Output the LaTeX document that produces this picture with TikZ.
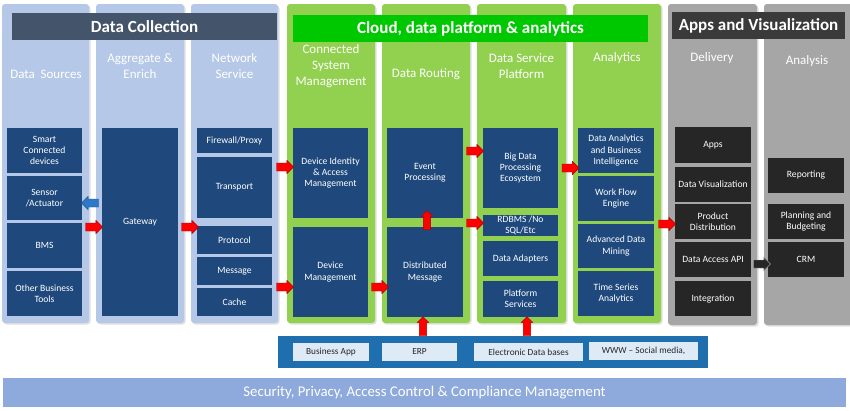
\documentclass[tikz,border=0pt]{standalone}
\usepackage{fontspec}
\setmainfont{Carlito}
\usetikzlibrary{shapes.arrows,shadows}
\definecolor{colB}{HTML}{B6C8E8}
\definecolor{colG}{HTML}{92D050}
\definecolor{colK}{HTML}{A6A6A6}
\definecolor{navyC}{HTML}{1F497D}
\definecolor{darkC}{HTML}{262626}
\definecolor{hdrB}{HTML}{44546A}
\definecolor{hdrG}{HTML}{00C800}
\definecolor{hdrK}{HTML}{3A3A3A}
\definecolor{bandC}{HTML}{1F6EAE}
\definecolor{lightC}{HTML}{DEEBF7}
\definecolor{secC}{HTML}{8EA9DB}
\definecolor{arrB}{HTML}{2E78C8}
\tikzset{
  colbox/.style={inner sep=0, rounded corners=3pt, drop shadow={shadow xshift=1.5pt, shadow yshift=-1.5pt, opacity=0.25}},
  coltitle/.style={text=white, align=center, font=\fontsize{13}{16}\selectfont, inner sep=0},
  hdr/.style={inner sep=0, text=white, font=\bfseries\fontsize{17}{18}\selectfont},
  navy/.style={fill=navyC, text=white, align=center, inner sep=0, font=\fontsize{9.6}{11.2}\selectfont},
  blk/.style={fill=darkC, text=white, align=center, inner sep=0, font=\fontsize{9.6}{11.2}\selectfont},
  srcbox/.style={fill=lightC, text=black!85, align=center, inner sep=0, font=\fontsize{9.3}{11}\selectfont},
  blockarr/.style={single arrow, minimum height=17pt, text height=0pt, text depth=0pt, text width=0pt, inner xsep=0pt, inner ysep=3.8pt, single arrow head extend=2.6pt, line width=0.4pt},
  redarr/.style={blockarr, fill=red, draw=red!65!black},
  bluearr/.style={blockarr, fill=arrB, draw=arrB!70!black, rotate=180},
  blackarr/.style={blockarr, fill=darkC, draw=white!60!black},
  uparr/.style={redarr, rotate=90, minimum height=19pt, inner ysep=3.4pt, single arrow head extend=2.2pt},
}
% \bx{style}{name}{x1}{y1}{x2}{y2}{text}
\newcommand\bx[7]{\node[#1, minimum width={#5-#3}, minimum height={#6-#4}] (#2) at ({(#3+#5)/2},{(#4+#6)/2}) {#7};}
\begin{document}
\begin{tikzpicture}[x=1pt,y=-1pt]
\useasboundingbox[fill=white] (0,0) rectangle (850,410);
% columns
\bx{colbox, fill=colB}{c1}{2}{4}{89}{323}{}
\bx{colbox, fill=colB}{c2}{96}{4}{184}{323}{}
\bx{colbox, fill=colB}{c3}{191}{4}{278}{323}{}
\bx{colbox, fill=colG}{c4}{287}{4}{375}{323}{}
\bx{colbox, fill=colG}{c5}{382}{4}{470}{323}{}
\bx{colbox, fill=colG}{c6}{477}{4}{566}{323}{}
\bx{colbox, fill=colG}{c7}{573}{4}{661}{323}{}
\bx{colbox, fill=colK}{c8}{668}{4}{757}{325}{}
\bx{colbox, fill=colK}{c9}{764}{4}{854}{325}{}
% headers
\bx{hdr, fill=hdrB}{h1}{12}{13}{277}{40}{Data Collection}
\bx{hdr, fill=hdrG}{h2}{293}{15}{648}{42}{Cloud, data platform \& analytics}
\bx{hdr, fill=hdrK}{h3}{672}{12}{845}{39}{Apps and Visualization}
% column titles
\node[coltitle] (t1) at (46,74) {Data\ \ Sources};
\node[coltitle] (t2) at (140,66) {Aggregate \&\\Enrich};
\node[coltitle] (t3) at (234.5,66) {Network\\Service};
\node[coltitle] (t4) at (331,66) {Connected\\System\\Management};
\node[coltitle] (t5) at (426,74) {Data Routing};
\node[coltitle] (t6) at (521.5,66) {Data Service\\Platform};
\node[coltitle] (t7) at (617,58) {Analytics};
\node[coltitle] (t8) at (712,58) {Delivery};
\node[coltitle] (t9) at (807,61) {Analysis};
% data sources
\bx{navy}{sd}{7}{128}{82}{173}{Smart\\Connected\\devices}
\bx{navy}{sa}{7}{176}{82}{220}{Sensor\\/Actuator}
\bx{navy}{bms}{7}{223}{82}{268}{BMS}
\bx{navy}{obt}{7}{271}{82}{316}{Other Business\\Tools}
% gateway
\bx{navy}{gw}{102}{128}{178}{316}{Gateway}
% network service
\bx{navy}{fw}{197}{128}{272}{153}{Firewall/Proxy}
\bx{navy}{tr}{197}{157}{272}{218}{Transport}
\bx{navy}{pr}{197}{226}{272}{254}{Protocol}
\bx{navy}{msg}{197}{257}{272}{285}{Message}
\bx{navy}{ca}{197}{288}{272}{316}{Cache}
% connected system management
\bx{navy}{dia}{293}{128}{368}{218}{Device Identity\\\& Access\\Management}
\bx{navy}{dm}{293}{227}{368}{317}{Device\\Management}
% data routing
\bx{navy}{ep}{387}{128}{463}{218}{Event\\Processing}
\bx{navy}{dmsg}{387}{227}{463}{317}{Distributed\\Message}
% data service platform
\bx{navy}{bd}{483}{128}{558}{208}{Big Data\\Processing\\Ecosystem}
\bx{navy}{rd}{483}{215}{558}{236}{RDBMS /No\\SQL/Etc}
\bx{navy}{da}{483}{241}{558}{276}{Data Adapters}
\bx{navy}{ps}{483}{281}{558}{317}{Platform\\Services}
% analytics
\bx{navy}{dabi}{578}{128}{654}{173}{Data Analytics\\and Business\\Intelligence}
\bx{navy}{wf}{578}{176}{654}{221}{Work Flow\\Engine}
\bx{navy}{adm}{578}{224}{654}{268}{Advanced Data\\Mining}
\bx{navy}{tsa}{578}{271}{654}{316}{Time Series\\Analytics}
% delivery
\bx{blk}{apps}{675}{127}{751}{163}{Apps}
\bx{blk}{dv}{675}{167}{751}{202}{Data Visualization}
\bx{blk}{pd}{675}{204}{751}{239}{Product\\Distribution}
\bx{blk}{dapi}{675}{242}{751}{277}{Data Access API}
\bx{blk}{intg}{675}{281}{751}{316}{Integration}
% analysis
\bx{blk}{rep}{768}{158}{844}{193}{Reporting}
\bx{blk}{pb}{768}{204}{844}{239}{Planning and\\Budgeting}
\bx{blk}{crm}{768}{242}{844}{277}{CRM}
% source band
\bx{inner sep=0, fill=bandC}{band}{278}{336}{708}{368}{}
\bx{srcbox}{bapp}{293}{343}{369}{361}{Business App}
\bx{srcbox}{erp}{382}{343}{457}{361}{ERP}
\bx{srcbox}{edb}{474}{343}{583}{361}{Electronic Data bases}
\bx{srcbox}{www}{589}{342}{698}{360}{WWW -- Social media,}
% security bar
\bx{inner sep=0, fill=secC, text=white, font=\fontsize{14.8}{16}\selectfont}{sec}{3}{378}{846}{407}{Security, Privacy, Access Control \& Compliance Management}
% arrows
\node[bluearr] (a1) at (92,203) {};
\node[redarr] (a2) at (92,227) {};
\node[redarr] (a3) at (188,227) {};
\node[redarr] (a4) at (283,167) {};
\node[redarr] (a5) at (283,287) {};
\node[redarr] (a6) at (378,287) {};
\node[uparr] (a7) at (427,222) {};
\node[redarr] (a8) at (473,151) {};
\node[redarr] (a9) at (473,223) {};
\node[redarr] (a10) at (568.5,168) {};
\node[redarr] (a11) at (665,224) {};
\node[blackarr] (a12) at (760,264) {};
\node[uparr] (a13) at (423,328) {};
\node[uparr] (a14) at (527,328) {};
\end{tikzpicture}
\end{document}
